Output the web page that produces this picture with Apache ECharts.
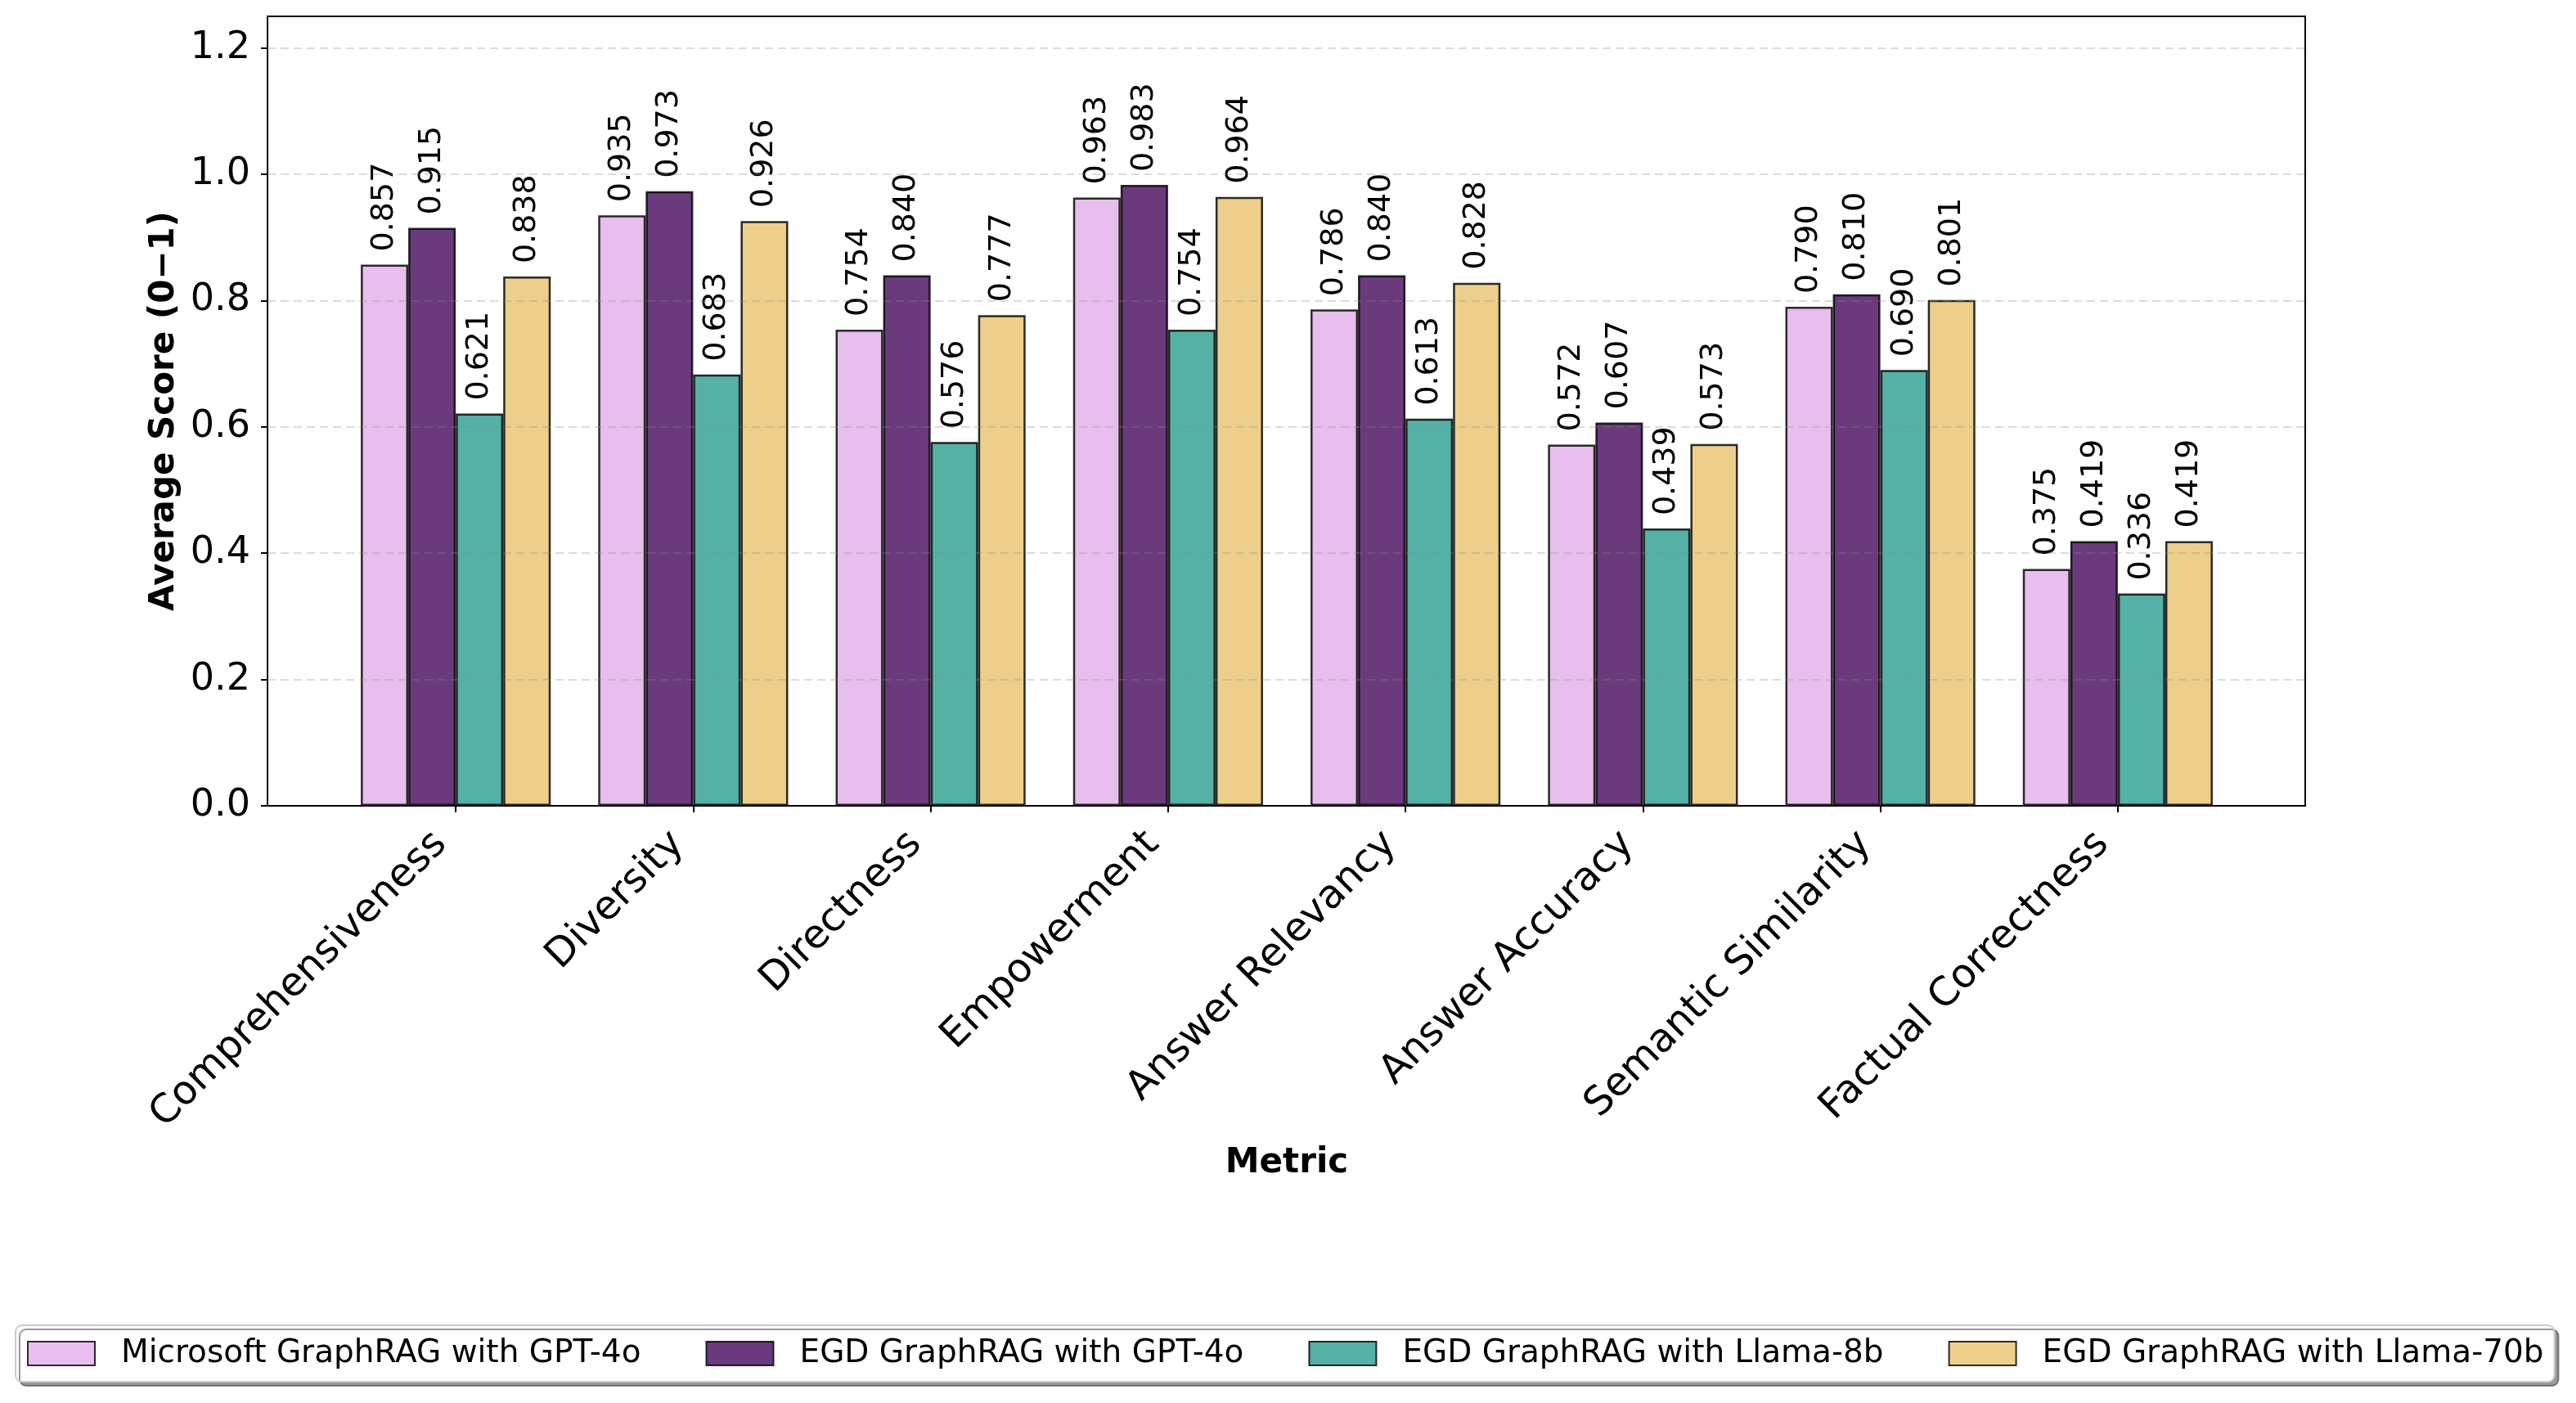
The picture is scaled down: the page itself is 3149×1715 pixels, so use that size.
<!DOCTYPE html>
<html>
<head>
<meta charset="utf-8">
<script src="https://cdn.jsdelivr.net/npm/echarts@6/dist/echarts.min.js"></script>
<style>
  html, body { margin: 0; padding: 0; background: #fff; }
  #main { width: 3149px; height: 1715px; }
</style>
</head>
<body>
<div id="main"></div>
<script>
// 数据
var metrics = ['Comprehensiveness', 'Diversity', 'Directness', 'Empowerment',
  'Answer Relevancy', 'Answer Accuracy', 'Semantic Similarity', 'Factual Correctness'];
var seriesNames = ['Microsoft GraphRAG with GPT-4o', 'EGD GraphRAG with GPT-4o',
  'EGD GraphRAG with Llama-8b', 'EGD GraphRAG with Llama-70b'];
var msGpt4o = [0.857, 0.935, 0.754, 0.963, 0.786, 0.572, 0.790, 0.375];
var egdGpt4o = [0.915, 0.973, 0.840, 0.983, 0.840, 0.607, 0.810, 0.419];
var egdLlama8b = [0.621, 0.683, 0.576, 0.754, 0.613, 0.439, 0.690, 0.336];
var egdLlama70b = [0.838, 0.926, 0.777, 0.964, 0.828, 0.573, 0.801, 0.419];
var yTicks = [0, 0.2, 0.4, 0.6, 0.8, 1.0, 1.2];

var colors = ['#E8BEEE', '#6A3A7D', '#55B0A5', '#EDCF8B'];
var font = 'DejaVu Sans';

function makeSeries(name, data, color) {
  return {
    name: name,
    type: 'bar',
    xAxisIndex: 1,
    yAxisIndex: 1,
    data: data,
    barGap: 0,
    barCategoryGap: '20%',
    itemStyle: {
      color: color,
      borderColor: 'rgba(0,0,0,0.82)',
      borderWidth: 2.5
    },
    label: {//柱顶数值
      show: true,
      position: 'top',
      distance: 16,
      rotate: 90,
      align: 'left',
      verticalAlign: 'middle',
      fontFamily: font,
      fontSize: 38,
      color: '#000',
      formatter: function (p) { return p.value.toFixed(3); }
    }
  };
}

var myChart = echarts.init(document.getElementById('main'), null, { renderer: 'canvas' });

var option = {
  backgroundColor: '#fff',
  animation: false,
  textStyle: { fontFamily: font },
  grid: [
    {//外框 + y轴
      left: 327, right: 331, top: 20, bottom: 730,
      show: true, borderColor: '#000', borderWidth: 2, backgroundColor: 'transparent'
    },
    {//柱子所在区域
      left: 412, right: 415, top: 20, bottom: 730
    }
  ],
  legend: {
    data: seriesNames,
    left: 19,
    top: 1620,
    width: 3115,
    orient: 'horizontal',
    padding: [12, 13, 12, 14],
    itemGap: 79,
    itemWidth: 82,
    itemHeight: 29,
    icon: 'rect',
    backgroundColor: '#fff',
    borderColor: '#cccccc',
    borderWidth: 2,
    borderRadius: 8,
    shadowColor: 'rgba(0,0,0,0.4)',
    shadowOffsetX: 5,
    shadowOffsetY: 5,
    shadowBlur: 0,
    textStyle: {
      fontFamily: font,
      fontSize: 39,
      color: '#000',
      lineHeight: 45,
      padding: [0, 0, 0, 27]
    }
  },
  xAxis: [
    {//外框底边
      gridIndex: 0, type: 'value', min: 0, max: 1, z: 6,
      axisLine: { show: true, lineStyle: { color: '#000', width: 2 } },
      axisTick: { show: false },
      axisLabel: { show: false },
      splitLine: { show: false }
    },
    {
      gridIndex: 1,
      type: 'category',
      data: metrics,
      name: 'Metric',
      nameLocation: 'middle',
      nameGap: 416,
      nameTextStyle: { fontFamily: font, fontSize: 42, fontWeight: 'bold', color: '#000' },
      axisLine: { show: false },
      axisTick: { show: true, alignWithLabel: true, length: 8, lineStyle: { color: '#000', width: 2 } },
      axisLabel: {
        interval: 0,
        rotate: 45,
        margin: 21,
        padding: [0, 26, 0, 0],
        fontFamily: font,
        fontSize: 48.5,
        color: '#000'
      },
      splitLine: { show: false }
    }
  ],
  yAxis: [
    {
      gridIndex: 0,
      type: 'value',
      min: 0,
      max: 1.25,
      interval: 0.2,
      z: 5,
      name: 'Average Score (0\u22121)',
      nameLocation: 'middle',
      nameRotate: 90,
      nameGap: 104,
      nameTextStyle: { fontFamily: font, fontSize: 42, fontWeight: 'bold', color: '#000' },
      axisLine: { show: true, lineStyle: { color: '#000', width: 2 } },
      axisTick: { show: true, length: 8, customValues: yTicks, lineStyle: { color: '#000', width: 2 } },
      axisLabel: {
        customValues: yTicks,
        margin: 21,
        fontFamily: font,
        fontSize: 46,
        color: '#000',
        formatter: function (v) { return v.toFixed(1); }
      },
      splitLine: {
        show: true,
        lineStyle: { color: 'rgba(140,140,140,0.3)', width: 2, type: [10, 6] }
      }
    },
    { gridIndex: 1, type: 'value', min: 0, max: 1.25, show: false }
  ],
  series: [
    makeSeries(seriesNames[0], msGpt4o, colors[0]),
    makeSeries(seriesNames[1], egdGpt4o, colors[1]),
    makeSeries(seriesNames[2], egdLlama8b, colors[2]),
    makeSeries(seriesNames[3], egdLlama70b, colors[3])
  ]
};

myChart.setOption(option);
</script>
</body>
</html>
